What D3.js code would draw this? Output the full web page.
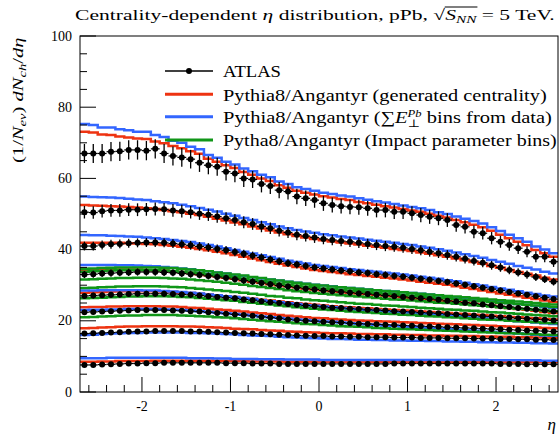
<!DOCTYPE html>
<html><head><meta charset="utf-8">
<script src="https://cdn.jsdelivr.net/npm/d3@7"></script>
<style>body{margin:0;background:#fff} svg{display:block}</style>
</head><body><svg id="c" width="560" height="439"></svg>
<script>
// ---------- DATA ----------
const etaEdges = [-2.7,-2.6,-2.5,-2.4,-2.3,-2.2,-2.1,-2.0,-1.9,-1.8,-1.7,-1.6,-1.5,-1.4,-1.3,-1.2,-1.1,-1.0,-0.9,-0.8,-0.7,-0.6,-0.5,-0.4,-0.3,-0.2,-0.1,0.0,0.1,0.2,0.3,0.4,0.5,0.6,0.7,0.8,0.9,1.0,1.1,1.2,1.3,1.4,1.5,1.6,1.7,1.8,1.9,2.0,2.1,2.2,2.3,2.4,2.5,2.6,2.7];
const centralityClasses = ["0-1%","1-5%","5-10%","10-20%","20-30%","30-40%","40-60%","60-90%"];
const xTickLabels = ["-2","-1","0","1","2"];
const yTickLabels = ["0","20","40","60","80","100"];
const atlasRelErr = [0.04,0.035,0.03,0.03,0.03,0.03,0.03,0.04];

// ATLAS data
const atlasC1 = [67.0,67.0,67.0,67.5,67.6,68.0,68.0,67.8,68.3,67.0,
 66.3,65.9,65.4,64.4,63.7,63.3,61.9,61.4,60.0,59.7,
 58.4,57.9,56.7,56.3,54.9,54.4,53.9,53.0,52.5,52.2,
 52.0,51.9,51.6,51.1,51.1,50.6,50.6,50.2,49.7,49.2,
 48.8,48.3,46.9,46.4,45.0,44.6,43.2,42.2,41.3,40.4,
 39.4,38.0,38.0,36.6];
const atlasC2 = [50.5,50.4,50.8,51.0,51.0,51.2,51.2,51.3,51.4,51.3,
 51.0,50.8,50.5,50.1,49.8,49.3,48.8,48.3,47.7,47.2,
 46.5,46.0,45.3,44.8,44.2,43.8,43.4,43.0,42.7,42.4,
 42.2,41.9,41.6,41.3,41.0,40.8,40.5,40.2,39.8,39.4,
 39.0,38.5,38.0,37.4,36.8,36.3,35.6,35.0,34.3,33.6,
 33.0,32.3,31.7,31.0];
const atlasC3 = [41.0,41.0,41.3,41.5,41.6,41.8,41.9,42.0,42.0,41.9,
 41.7,41.5,41.2,40.9,40.6,40.2,39.8,39.3,38.8,38.3,
 37.8,37.2,36.7,36.2,35.8,35.4,35.0,34.7,34.4,34.1,
 33.9,33.6,33.4,33.1,32.9,32.6,32.4,32.1,31.8,31.5,
 31.2,30.9,30.5,30.1,29.7,29.3,28.9,28.5,28.1,27.7,
 27.3,26.9,26.5,26.1];
const atlasC4 = [33.0,33.1,33.3,33.4,33.5,33.6,33.7,33.7,33.7,33.6,
 33.5,33.3,33.1,32.9,32.6,32.3,32.0,31.7,31.3,31.0,
 30.6,30.3,29.9,29.6,29.3,29.0,28.8,28.5,28.3,28.1,
 27.9,27.7,27.5,27.3,27.1,26.9,26.7,26.5,26.3,26.1,
 25.9,25.6,25.4,25.1,24.9,24.6,24.4,24.1,23.9,23.6,
 23.4,23.1,22.9,22.6];
const atlasC5 = [27.0,27.1,27.2,27.3,27.4,27.5,27.6,27.6,27.6,27.6,
 27.5,27.4,27.3,27.1,26.9,26.7,26.5,26.3,26.0,25.8,
 25.5,25.2,25.0,24.7,24.5,24.3,24.1,23.9,23.7,23.6,
 23.4,23.3,23.1,23.0,22.9,22.7,22.6,22.5,22.3,22.2,
 22.1,21.9,21.8,21.6,21.5,21.3,21.2,21.0,20.9,20.7,
 20.6,20.4,20.3,20.1];
const atlasC6 = [22.4,22.5,22.6,22.7,22.8,22.9,23.0,23.0,23.0,23.0,
 22.9,22.8,22.7,22.6,22.4,22.2,22.0,21.8,21.6,21.4,
 21.1,20.9,20.7,20.4,20.2,20.0,19.9,19.7,19.6,19.5,
 19.3,19.2,19.1,19.0,18.9,18.8,18.7,18.6,18.5,18.4,
 18.3,18.2,18.1,18.0,17.9,17.8,17.7,17.6,17.5,17.4,
 17.3,17.2,17.1,17.0];
const atlasC7 = [16.4,16.5,16.6,16.7,16.8,16.9,17.0,17.0,17.1,17.1,
 17.1,17.1,17.0,17.0,16.9,16.8,16.7,16.6,16.5,16.4,
 16.3,16.2,16.1,16.0,15.9,15.8,15.7,15.7,15.6,15.6,
 15.5,15.5,15.4,15.4,15.4,15.3,15.3,15.3,15.2,15.2,
 15.2,15.1,15.1,15.1,15.0,15.0,15.0,14.9,14.9,14.8,
 14.8,14.7,14.7,14.6];
const atlasC8 = [7.6,7.6,7.7,7.8,7.9,8.0,8.0,8.1,8.1,8.2,
 8.2,8.2,8.2,8.2,8.2,8.2,8.1,8.1,8.1,8.0,
 8.0,8.0,7.9,7.9,7.9,7.9,7.9,7.9,7.9,7.9,
 7.9,7.9,7.9,7.9,7.9,8.0,8.0,8.0,8.0,8.0,
 8.0,8.0,8.0,8.0,8.0,8.0,8.0,7.9,7.9,7.9,
 7.8,7.8,7.8,7.8];

// Pythia8/Angantyr (generated centrality) - red
const genC1 = [73.1,72.9,72.3,72.2,71.8,71.5,71.2,71.1,70.4,69.9,
 69.1,68.5,67.6,66.9,65.5,64.7,63.7,62.9,61.8,61.0,
 60.0,59.3,58.1,57.4,56.5,56.0,55.5,55.0,54.6,54.2,
 53.9,53.4,53.0,52.6,52.2,51.8,51.4,51.0,50.6,50.1,
 49.5,49.0,48.3,47.7,47.0,46.3,45.3,44.2,43.2,42.2,
 41.2,39.9,39.0,38.0];
const genC2 = [52.5,52.4,52.3,52.2,52.1,52.0,51.8,51.6,51.4,51.1,
 50.8,50.5,50.1,49.7,49.2,48.7,48.2,47.6,47.1,46.5,
 45.9,45.4,44.8,44.3,43.8,43.4,43.0,42.6,42.3,42.0,
 41.7,41.4,41.1,40.8,40.5,40.2,39.9,39.6,39.2,38.8,
 38.4,38.0,37.5,37.0,36.5,36.0,35.4,34.9,34.3,33.7,
 33.2,32.7,32.1,31.6];
const genC3 = [41.9,41.9,41.9,41.9,41.9,41.8,41.7,41.6,41.5,41.3,
 41.1,40.8,40.5,40.2,39.8,39.4,39.0,38.5,38.0,37.5,
 37.0,36.5,36.0,35.5,35.1,34.7,34.3,34.0,33.7,33.4,
 33.1,32.9,32.6,32.4,32.1,31.9,31.6,31.3,31.0,30.7,
 30.4,30.1,29.7,29.3,28.9,28.5,28.1,27.7,27.3,26.9,
 26.5,26.1,25.7,25.3];
const genC4 = [34.2,34.3,34.3,34.4,34.4,34.4,34.4,34.3,34.2,34.1,
 33.9,33.7,33.4,33.1,32.8,32.5,32.1,31.8,31.4,31.0,
 30.7,30.3,30.0,29.7,29.4,29.1,28.8,28.6,28.3,28.1,
 27.9,27.7,27.5,27.3,27.1,26.9,26.6,26.4,26.2,26.0,
 25.7,25.5,25.2,25.0,24.7,24.4,24.2,23.9,23.6,23.3,
 23.1,22.8,22.5,22.2];
const genC5 = [27.9,28.0,28.1,28.2,28.3,28.3,28.3,28.3,28.3,28.2,
 28.1,27.9,27.8,27.6,27.4,27.2,26.9,26.7,26.4,26.2,
 25.9,25.7,25.4,25.2,24.9,24.7,24.5,24.3,24.1,23.9,
 23.8,23.6,23.5,23.3,23.2,23.0,22.9,22.8,22.6,22.5,
 22.3,22.2,22.0,21.9,21.7,21.6,21.4,21.3,21.1,21.0,
 20.8,20.7,20.5,20.4];
const genC6 = [23.8,23.9,23.9,24.0,24.0,24.1,24.1,24.1,24.1,24.0,
 24.0,23.9,23.7,23.6,23.4,23.2,23.0,22.8,22.6,22.3,
 22.1,21.9,21.6,21.4,21.2,21.0,20.8,20.7,20.5,20.4,
 20.2,20.1,20.0,19.9,19.8,19.7,19.6,19.5,19.4,19.3,
 19.2,19.1,19.0,18.9,18.8,18.7,18.6,18.5,18.4,18.3,
 18.2,18.1,18.0,17.9];
const genC7 = [17.9,18.0,18.1,18.2,18.3,18.4,18.4,18.5,18.5,18.5,
 18.5,18.4,18.4,18.3,18.2,18.1,18.0,17.8,17.7,17.6,
 17.4,17.3,17.2,17.0,16.9,16.8,16.7,16.6,16.5,16.5,
 16.4,16.3,16.3,16.2,16.2,16.1,16.1,16.0,16.0,15.9,
 15.9,15.8,15.8,15.7,15.7,15.6,15.6,15.5,15.5,15.4,
 15.4,15.3,15.3,15.2];
const genC8 = [8.5,8.5,8.6,8.6,8.7,8.7,8.7,8.7,8.8,8.8,
 8.8,8.8,8.8,8.8,8.8,8.7,8.7,8.7,8.7,8.6,
 8.6,8.6,8.6,8.5,8.5,8.5,8.5,8.5,8.5,8.5,
 8.5,8.5,8.5,8.5,8.5,8.5,8.5,8.5,8.5,8.5,
 8.5,8.5,8.5,8.5,8.5,8.5,8.5,8.5,8.5,8.5,
 8.4,8.4,8.4,8.4];

// Pythia8/Angantyr (sum ET Pb bins from data) - blue
const sumEC1 = [75.3,75.0,74.3,74.3,73.8,73.5,73.1,73.1,72.2,71.6,
 70.6,70.0,68.9,68.2,66.6,65.8,64.7,63.9,62.8,62.0,
 61.0,60.3,59.1,58.4,57.5,57.0,56.5,56.0,55.6,55.2,
 54.9,54.4,54.0,53.6,53.2,52.8,52.4,52.0,51.6,51.1,
 50.5,50.0,49.3,48.7,48.0,47.3,46.3,45.2,44.2,43.2,
 42.2,40.9,40.0,39.0];
const sumEC2 = [54.9,54.8,54.7,54.6,54.5,54.3,54.1,53.9,53.6,53.3,
 53.0,52.6,52.2,51.7,51.2,50.7,50.1,49.5,48.9,48.3,
 47.7,47.1,46.5,46.0,45.5,45.1,44.7,44.3,44.0,43.7,
 43.4,43.1,42.8,42.5,42.2,41.9,41.6,41.3,40.9,40.5,
 40.1,39.7,39.2,38.7,38.2,37.7,37.1,36.6,36.0,35.4,
 34.9,34.4,33.8,33.3];
const sumEC3 = [44.1,44.0,44.0,43.9,43.8,43.7,43.6,43.4,43.2,43.0,
 42.7,42.4,42.1,41.7,41.3,40.9,40.4,39.9,39.4,38.9,
 38.4,37.9,37.4,36.9,36.5,36.1,35.7,35.4,35.1,34.8,
 34.5,34.3,34.0,33.8,33.5,33.3,33.0,32.7,32.4,32.1,
 31.8,31.4,31.1,30.7,30.3,29.9,29.5,29.1,28.7,28.3,
 27.9,27.5,27.1,26.8];
const sumEC4 = [35.7,35.7,35.7,35.7,35.6,35.6,35.5,35.4,35.3,35.1,
 34.9,34.7,34.5,34.2,33.9,33.6,33.3,32.9,32.6,32.2,
 31.9,31.6,31.3,31.0,30.7,30.4,30.1,29.9,29.7,29.4,
 29.2,29.0,28.8,28.6,28.4,28.2,28.0,27.8,27.6,27.4,
 27.1,26.9,26.6,26.4,26.1,25.8,25.6,25.3,25.0,24.7,
 24.5,24.2,23.9,23.6];
const sumEC5 = [28.5,28.5,28.6,28.6,28.6,28.6,28.6,28.5,28.5,28.4,
 28.2,28.1,27.9,27.7,27.4,27.2,26.9,26.7,26.4,26.1,
 25.8,25.5,25.2,24.9,24.7,24.4,24.2,24.0,23.8,23.6,
 23.4,23.2,23.0,22.9,22.7,22.5,22.4,22.2,22.0,21.9,
 21.7,21.5,21.3,21.1,20.9,20.7,20.5,20.3,20.1,19.9,
 19.7,19.5,19.3,19.1];
const sumEC6 = [23.0,23.1,23.1,23.2,23.2,23.3,23.3,23.3,23.3,23.2,
 23.1,23.0,22.9,22.7,22.5,22.3,22.1,21.9,21.7,21.5,
 21.2,21.0,20.8,20.6,20.4,20.2,20.0,19.8,19.7,19.5,
 19.3,19.2,19.0,18.9,18.7,18.6,18.4,18.3,18.1,18.0,
 17.8,17.7,17.5,17.4,17.2,17.0,16.9,16.7,16.6,16.4,
 16.3,16.1,15.9,15.8];
const sumEC7 = [16.0,16.1,16.3,16.4,16.5,16.6,16.6,16.7,16.7,16.7,
 16.7,16.7,16.6,16.6,16.5,16.4,16.3,16.2,16.0,15.9,
 15.8,15.7,15.5,15.4,15.3,15.2,15.1,15.0,14.9,14.9,
 14.8,14.7,14.7,14.6,14.6,14.5,14.5,14.4,14.4,14.3,
 14.3,14.2,14.2,14.1,14.1,14.0,14.0,13.9,13.9,13.8,
 13.8,13.7,13.7,13.6];
const sumEC8 = [9.5,9.5,9.5,9.6,9.6,9.6,9.6,9.6,9.6,9.6,
 9.6,9.6,9.5,9.5,9.5,9.4,9.4,9.3,9.3,9.3,
 9.2,9.2,9.2,9.1,9.1,9.1,9.1,9.0,9.0,9.0,
 9.0,9.0,9.0,9.0,9.0,9.0,9.0,9.0,9.0,9.0,
 9.0,9.0,9.0,9.0,9.0,9.0,8.9,8.9,8.9,8.9,
 8.9,8.9,8.8,8.8];

// Pytha8/Angantyr (impact parameter bins) - green
const impactB1 = [34.6,34.7,34.8,34.9,35.0,35.0,35.0,35.0,35.0,34.9,
 34.8,34.6,34.4,34.2,33.9,33.6,33.3,33.0,32.7,32.3,
 32.0,31.6,31.3,31.0,30.7,30.4,30.1,29.9,29.6,29.4,
 29.2,29.0,28.8,28.6,28.4,28.2,28.0,27.8,27.6,27.4,
 27.2,27.0,26.8,26.6,26.4,26.2,26.0,25.8,25.6,25.4,
 25.2,25.0,24.8,24.6];
const impactB2 = [33.8,33.9,34.0,34.1,34.2,34.2,34.2,34.2,34.2,34.1,
 34.0,33.8,33.6,33.4,33.1,32.8,32.5,32.2,31.9,31.5,
 31.2,30.8,30.5,30.2,29.9,29.6,29.4,29.1,28.9,28.7,
 28.5,28.3,28.1,27.9,27.7,27.5,27.3,27.1,26.9,26.7,
 26.5,26.3,26.1,25.9,25.7,25.5,25.3,25.1,24.9,24.7,
 24.5,24.3,24.1,23.9];
const impactB3 = [31.6,31.7,31.8,31.9,32.0,32.0,32.1,32.1,32.1,32.0,
 31.9,31.8,31.6,31.4,31.2,31.0,30.7,30.4,30.1,29.8,
 29.5,29.2,28.9,28.6,28.3,28.1,27.8,27.6,27.4,27.2,
 27.0,26.8,26.6,26.4,26.2,26.0,25.9,25.7,25.5,25.3,
 25.1,25.0,24.8,24.6,24.4,24.2,24.0,23.8,23.6,23.4,
 23.3,23.1,22.9,22.7];
const impactB4 = [29.2,29.3,29.4,29.5,29.6,29.6,29.7,29.7,29.7,29.6,
 29.5,29.4,29.2,29.0,28.8,28.6,28.4,28.1,27.9,27.6,
 27.3,27.0,26.8,26.5,26.3,26.0,25.8,25.6,25.4,25.2,
 25.0,24.8,24.7,24.5,24.3,24.2,24.0,23.9,23.7,23.5,
 23.4,23.2,23.1,22.9,22.8,22.6,22.4,22.3,22.1,22.0,
 21.8,21.6,21.5,21.3];
const impactB5 = [26.3,26.4,26.5,26.6,26.7,26.8,26.8,26.9,26.9,26.9,
 26.8,26.7,26.6,26.4,26.2,26.0,25.8,25.6,25.3,25.1,
 24.8,24.6,24.3,24.1,23.8,23.6,23.4,23.2,23.0,22.8,
 22.6,22.5,22.3,22.2,22.0,21.9,21.7,21.6,21.4,21.3,
 21.2,21.0,20.9,20.7,20.6,20.4,20.3,20.2,20.0,19.9,
 19.7,19.6,19.4,19.3];
const impactB6 = [21.0,21.1,21.2,21.3,21.4,21.5,21.5,21.6,21.6,21.6,
 21.6,21.5,21.4,21.3,21.2,21.0,20.9,20.7,20.5,20.3,
 20.1,19.9,19.7,19.5,19.3,19.1,19.0,18.8,18.7,18.5,
 18.4,18.3,18.2,18.0,17.9,17.8,17.7,17.6,17.5,17.4,
 17.3,17.2,17.1,17.0,16.9,16.8,16.7,16.6,16.5,16.4,
 16.3,16.2,16.1,16.0];

const atlasSeries = [atlasC1,atlasC2,atlasC3,atlasC4,atlasC5,atlasC6,atlasC7,atlasC8];
const genSeries = [genC1,genC2,genC3,genC4,genC5,genC6,genC7,genC8];
const sumESeries = [sumEC1,sumEC2,sumEC3,sumEC4,sumEC5,sumEC6,sumEC7,sumEC8];
const impactSeries = [impactB1,impactB2,impactB3,impactB4,impactB5,impactB6];

// ---------- DRAW ----------
const RED = "#EE3311", BLUE = "#3366FF", GREEN = "#109618";
const FONT = "'Liberation Serif', 'DejaVu Serif', serif";
const svg = d3.select("#c");
svg.append("rect").attr("width",560).attr("height",439).attr("fill","#fff");
const L = 80, R = 558, T = 36, B = 392;
const x = d3.scaleLinear().domain([-2.7, 2.7]).range([L, R]);
const y = d3.scaleLinear().domain([0, 100]).range([B, T]);

svg.append("defs").append("clipPath").attr("id","clip")
  .append("rect").attr("x",L).attr("y",T).attr("width",R-L).attr("height",B-T);
const plot = svg.append("g").attr("clip-path","url(#clip)");

function histPath(vals){
  const pts = vals.map((v,i)=>[etaEdges[i], v]);
  pts.push([etaEdges[vals.length], vals[vals.length-1]]);
  return d3.line().x(d=>x(d[0])).y(d=>y(d[1])).curve(d3.curveStepAfter)(pts);
}
function drawHist(vals, color, w){
  plot.append("path").attr("d", histPath(vals)).attr("fill","none")
    .attr("stroke", color).attr("stroke-width", w);
}
genSeries.forEach(s=>drawHist(s, RED, 2.5));
sumESeries.forEach(s=>drawHist(s, BLUE, 2.5));
impactSeries.forEach(s=>drawHist(s, GREEN, 2.5));

// ATLAS points
atlasSeries.forEach((s,k)=>{
  const g = plot.append("g");
  s.forEach((v,i)=>{
    const c = (etaEdges[i]+etaEdges[i+1])/2;
    const e = v*atlasRelErr[k];
    g.append("line").attr("x1",x(c)).attr("x2",x(c)).attr("y1",y(v-e)).attr("y2",y(v+e))
      .attr("stroke","#000").attr("stroke-width",1.3);
    g.append("line").attr("x1",x(etaEdges[i])).attr("x2",x(etaEdges[i+1])).attr("y1",y(v)).attr("y2",y(v))
      .attr("stroke","#000").attr("stroke-width",1.2);
    g.append("circle").attr("cx",x(c)).attr("cy",y(v)).attr("r",3).attr("fill","#000");
  });
});

// Frame
svg.append("rect").attr("x",L).attr("y",T).attr("width",R-L).attr("height",B-T)
  .attr("fill","none").attr("stroke","#000").attr("stroke-width",1);

// Ticks (inside)
const xMajor = xTickLabels.map(Number);
const xMinor = [-2.6,-2.4,-2.2,-1.8,-1.6,-1.4,-1.2,-0.8,-0.6,-0.4,-0.2,0.2,0.4,0.6,0.8,1.2,1.4,1.6,1.8,2.2,2.4,2.6];
const yMajor = yTickLabels.map(Number);
const yMinor = [5,10,15,25,30,35,45,50,55,65,70,75,85,90,95];
const tg = svg.append("g").attr("stroke","#000").attr("stroke-width",1);
xMajor.forEach(v=>tg.append("line").attr("x1",x(v)).attr("x2",x(v)).attr("y1",B).attr("y2",B-15));
xMinor.forEach(v=>tg.append("line").attr("x1",x(v)).attr("x2",x(v)).attr("y1",B).attr("y2",B-7));
yMajor.forEach(v=>tg.append("line").attr("x1",L).attr("x2",L+16).attr("y1",y(v)).attr("y2",y(v)));
yMinor.forEach(v=>tg.append("line").attr("x1",L).attr("x2",L+7).attr("y1",y(v)).attr("y2",y(v)));

// Tick labels
xTickLabels.forEach(t=>svg.append("text").attr("x",x(+t)).attr("y",411).attr("text-anchor","middle")
  .attr("font-family",FONT).attr("font-size",14).text(t));
yTickLabels.forEach(t=>svg.append("text").attr("x",72).attr("y",y(+t)+4.5).attr("text-anchor","end")
  .attr("font-family",FONT).attr("font-size",14).text(t));

// helper to stretch text horizontally to a target width
function fitGroup(g, textEl, x0, y0, targetW){
  const bb = textEl.node().getBBox();
  const s = targetW / bb.width;
  g.attr("transform", `translate(${x0 - s*bb.x},${y0}) scale(${s},1)`);
}

// Title
{
  const g = svg.append("g");
  const t = g.append("text").attr("x",0).attr("y",0).attr("font-family",FONT).attr("font-size",15.5);
  t.append("tspan").text("Centrality-dependent ");
  t.append("tspan").attr("font-style","italic").text("η");
  t.append("tspan").text(" distribution, pPb, ");
  t.append("tspan").text("√");
  t.append("tspan").attr("font-style","italic").text("S");
  t.append("tspan").attr("font-style","italic").attr("font-size",11).attr("dy",3).text("NN");
  t.append("tspan").attr("dy",-3).text(" = 5 TeV.");
  const node = t.node();
  const txt = node.textContent;
  const iS = txt.indexOf("√");
  const eSq = node.getExtentOfChar(iS);
  const eN = node.getExtentOfChar(iS+3);
  g.append("line").attr("x1",eSq.x+eSq.width-0.5).attr("x2",eN.x+eN.width+0.5)
    .attr("y1",eSq.y+1).attr("y2",eSq.y+1).attr("stroke","#000").attr("stroke-width",0.9);
  fitGroup(g, t, 75, 20, 480);
}

// Y label
{
  const g = svg.append("g");
  const t = g.append("text").attr("x",0).attr("y",0).attr("font-family",FONT).attr("font-size",15.5);
  t.append("tspan").text("(1/");
  t.append("tspan").attr("font-style","italic").text("N");
  t.append("tspan").attr("font-style","italic").attr("font-size",11).attr("dy",3).text("ev");
  t.append("tspan").attr("dy",-3).text(") ");
  t.append("tspan").attr("font-style","italic").text("dN");
  t.append("tspan").attr("font-style","italic").attr("font-size",11).attr("dy",3).text("ch");
  t.append("tspan").attr("dy",-3).text("/");
  t.append("tspan").attr("font-style","italic").text("dη");
  const bb = t.node().getBBox();
  const s = 126 / bb.width;
  g.attr("transform", `translate(23,163) rotate(-90) scale(${s},1) translate(${-bb.x},0)`);
}

// X label
svg.append("text").attr("x",556).attr("y",430).attr("text-anchor","end").attr("font-family",FONT)
  .attr("font-style","italic").attr("font-size",17).text("η");

// Legend
const legY = [71, 94.3, 116.7, 140];
const legTextW = [58, 324, 329, 334];
const lx1 = 165, lx2 = 213, tx = 223;
svg.append("line").attr("x1",lx1).attr("x2",lx2).attr("y1",legY[0]).attr("y2",legY[0]).attr("stroke","#000").attr("stroke-width",1.3);
svg.append("circle").attr("cx",(lx1+lx2)/2).attr("cy",legY[0]).attr("r",3).attr("fill","#000");
[[RED,1],[BLUE,2],[GREEN,3]].forEach(([c,i])=>svg.append("line").attr("x1",lx1).attr("x2",lx2)
  .attr("y1",legY[i]).attr("y2",legY[i]).attr("stroke",c).attr("stroke-width",3));

function legText(i, build){
  const g = svg.append("g");
  const t = g.append("text").attr("x",0).attr("y",0).attr("font-family",FONT).attr("font-size",17);
  build(t);
  fitGroup(g, t, tx, legY[i]+6.3, legTextW[i]);
}
legText(0, t=>t.text("ATLAS"));
legText(1, t=>t.text("Pythia8/Angantyr (generated centrality)"));
legText(2, t=>{
  t.append("tspan").text("Pythia8/Angantyr (∑");
  t.append("tspan").attr("font-style","italic").text("E");
  t.append("tspan").attr("font-style","italic").attr("font-size",10.5).attr("dy",-6).text("Pb");
  const perp = t.append("tspan").attr("font-size",11).attr("dy",10).text("⊥");
  const rest = t.append("tspan").attr("dy",-4).text(" bins from data)");
  const node = t.node();
  const iP = node.textContent.indexOf("Pb");
  const eP = node.getExtentOfChar(iP);
  const eb = node.getExtentOfChar(iP+1);
  perp.attr("x", eP.x);
  const ePerp = node.getExtentOfChar(iP+2);
  rest.attr("x", Math.max(eb.x+eb.width, ePerp.x+ePerp.width));
});
legText(3, t=>t.text("Pytha8/Angantyr (Impact parameter bins)"));
</script></body></html>
